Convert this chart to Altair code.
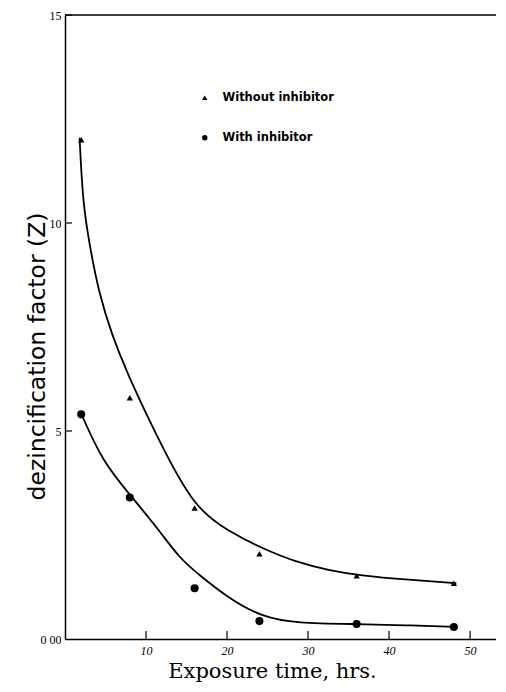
import altair as alt
import pandas as pd

# Measured points (exposure time, hrs. / dezincification factor Z)
hours = [2, 8, 16, 24, 36, 48]
z_without = [12.0, 5.8, 3.15, 2.05, 1.52, 1.34]
z_with = [5.4, 3.4, 1.22, 0.43, 0.36, 0.29]

# Hand-drawn smooth curves
curve_without_x = [1.8, 2.2, 3.0, 4.2, 5.8, 7.9, 9.1, 11.4, 15.9, 20.2, 24.3, 28.5, 32.6, 36.3, 42.5, 48.3]
curve_without_y = [12.05, 10.5, 9.5, 8.3, 7.3, 6.3, 5.8, 4.85, 3.15, 2.59, 2.18, 1.85, 1.65, 1.53, 1.42, 1.34]
curve_with_x = [2.0, 4.6, 8.3, 11.6, 14.1, 16.5, 20.2, 24.3, 28.5, 36.3, 42.0, 48.3]
curve_with_y = [5.42, 4.27, 3.40, 2.62, 1.95, 1.55, 0.98, 0.53, 0.38, 0.36, 0.33, 0.29]

series_names = ["Without inhibitor", "With inhibitor"]
x_ticks = [10, 20, 30, 40, 50]
y_ticks = [0, 5, 10, 15]

W, H = 431, 624

pts = pd.DataFrame(
    {"t": hours * 2, "z": z_without + z_with,
     "series": [series_names[0]] * len(hours) + [series_names[1]] * len(hours)}
)
curves = pd.DataFrame(
    {"t": curve_without_x + curve_with_x,
     "z": curve_without_y + curve_with_y,
     "series": [series_names[0]] * len(curve_without_x) + [series_names[1]] * len(curve_with_x)}
)

xscale = alt.Scale(domain=[0, 53.2], nice=False, zero=False)
yscale = alt.Scale(domain=[0, 15], nice=False)
shape_scale = alt.Scale(domain=series_names, range=["triangle-up", "circle"])

x_axis = alt.Axis(
    values=x_ticks, grid=False, ticks=False, tickSize=0, labelPadding=6,
    labelFont="Liberation Serif", labelFontStyle="italic", labelFontSize=12,
    labelColor="black", domainColor="black", domainWidth=1.5,
    title="Exposure time, hrs.", titleFont="DejaVu Serif", titleFontSize=21,
    titleFontWeight="normal", titleColor="black", titleX=207, titleY=38,
    titleAnchor="middle", titleAlign="center", titleBaseline="alphabetic",
)
y_axis = alt.Axis(
    values=y_ticks, grid=False, ticks=False, tickSize=0, labelPadding=4,
    labelFont="Liberation Serif", labelFontSize=12, labelColor="black",
    labelExpr="datum.value == 0 ? '0 00' : datum.label",
    domainColor="black", domainWidth=1.5,
    title="dezincification factor (Z)", titleFont="DejaVu Sans", titleFontSize=23.5,
    titleFontWeight="normal", titleColor="black", titleAngle=270,
    titleX=-16, titleY=341, titleAlign="center", titleBaseline="bottom",
)

lines = alt.Chart(curves).mark_line(
    color="black", strokeWidth=1.8, interpolate="basis"
).encode(
    x=alt.X("t:Q", scale=xscale, axis=x_axis),
    y=alt.Y("z:Q", scale=yscale, axis=y_axis),
    detail="series:N",
)

legend = alt.Legend(
    title=None, orient="none", legendX=134, legendY=77, direction="vertical",
    labelFont="DejaVu Sans", labelFontSize=11.5, labelFontWeight="bold",
    labelColor="black", labelOffset=12, rowPadding=27, padding=0,
    symbolFillColor="black", symbolStrokeColor="black", symbolSize=30,
)

tri = alt.Chart(pts).transform_filter(
    alt.datum.series == series_names[0]
).mark_point(filled=True, color="black", opacity=1, size=40).encode(
    x=alt.X("t:Q", scale=xscale),
    y=alt.Y("z:Q", scale=yscale),
    shape=alt.Shape("series:N", scale=shape_scale, legend=legend),
)
dots = alt.Chart(pts).transform_filter(
    alt.datum.series == series_names[1]
).mark_point(filled=True, color="black", opacity=1, size=65).encode(
    x=alt.X("t:Q", scale=xscale),
    y=alt.Y("z:Q", scale=yscale),
    shape=alt.Shape("series:N", scale=shape_scale, legend=legend),
)

top_line = alt.Chart(pd.DataFrame({"v": [15]})).mark_rule(
    color="black", strokeWidth=1.5
).encode(y=alt.Y("v:Q", scale=yscale), x=alt.value(0), x2=alt.value(W))

xt = alt.Chart(pd.DataFrame({"v": x_ticks})).mark_rule(
    color="black", strokeWidth=1.2
).encode(x=alt.X("v:Q", scale=xscale), y=alt.value(H), y2=alt.value(H - 8))

yt = alt.Chart(pd.DataFrame({"v": y_ticks[1:]})).mark_rule(
    color="black", strokeWidth=1.2
).encode(y=alt.Y("v:Q", scale=yscale), x=alt.value(0), x2=alt.value(7))

chart = alt.layer(lines, top_line, xt, yt, tri, dots).properties(
    width=W, height=H,
    autosize=alt.AutoSizeParams(type="none"),
    padding={"left": 57, "top": 7, "right": 0, "bottom": 44},
).configure(background="white").configure_view(stroke=None)

chart.save("out.html", embed_options={"renderer": "svg", "actions": False})
